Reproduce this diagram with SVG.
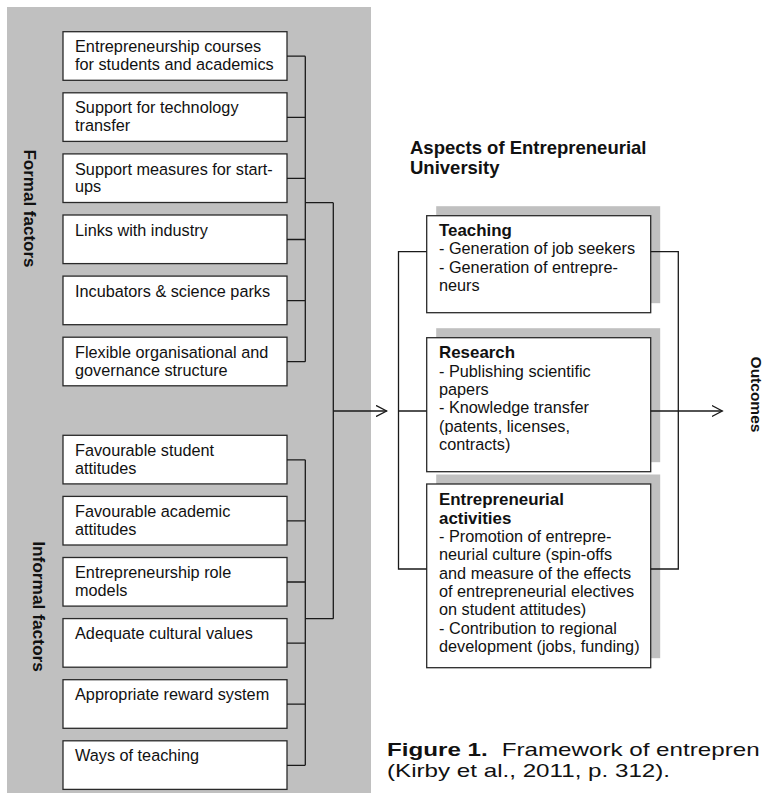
<svg xmlns="http://www.w3.org/2000/svg" width="763" height="793" viewBox="0 0 763 793">
<style>
.t{font-family:"Liberation Sans",Arial,sans-serif;font-size:16.25px;fill:#111}
.b{font-weight:bold}
.bh{font-weight:bold;font-size:16.9px}
.box{fill:#fff;stroke:#2a2a2a;stroke-width:1.3}
.sh{fill:#c0c0c0}
.ln{fill:none;stroke:#1a1a1a;stroke-width:1.3}
</style>
<defs>
<marker id="arr" viewBox="0 0 12 12" refX="10.7" refY="6" markerWidth="12" markerHeight="12" markerUnits="userSpaceOnUse" orient="auto">
<path d="M0,0.4 L10.7,6 L0,11.6" fill="none" stroke="#1a1a1a" stroke-width="1.3"/>
</marker>
</defs>
<rect x="7" y="7" width="364" height="786" fill="#c0c0c0"/>
<text class="t b" font-size="17" transform="translate(24 208.5) rotate(90)" text-anchor="middle" style="font-size:17px">Formal factors</text>
<text class="t b" transform="translate(33 606.5) rotate(90)" text-anchor="middle" style="font-size:17.3px">Informal factors</text>

<g id="f1"><rect class="box" x="63" y="31.7" width="224" height="48.6"/><text class="t" x="75" y="52.3">Entrepreneurship courses<tspan x="75" dy="17.7">for students and academics</tspan></text></g>
<g id="f2"><rect class="box" x="63" y="92.8" width="224" height="48.6"/><text class="t" x="75" y="113.4">Support for technology<tspan x="75" dy="17.7">transfer</tspan></text></g>
<g id="f3"><rect class="box" x="63" y="153.9" width="224" height="48.6"/><text class="t" x="75" y="174.5">Support measures for start-<tspan x="75" dy="17.7">ups</tspan></text></g>
<g id="f4"><rect class="box" x="63" y="215" width="224" height="48.6"/><text class="t" x="75" y="235.6">Links with industry</text></g>
<g id="f5"><rect class="box" x="63" y="276.1" width="224" height="48.6"/><text class="t" x="75" y="296.7">Incubators &amp; science parks</text></g>
<g id="f6"><rect class="box" x="63" y="337.2" width="224" height="48.6"/><text class="t" x="75" y="357.8">Flexible organisational and<tspan x="75" dy="17.7">governance structure</tspan></text></g>

<g id="i1"><rect class="box" x="63" y="435.3" width="224" height="48.6"/><text class="t" x="75" y="455.9">Favourable student<tspan x="75" dy="17.7">attitudes</tspan></text></g>
<g id="i2"><rect class="box" x="63" y="496.4" width="224" height="48.6"/><text class="t" x="75" y="517">Favourable academic<tspan x="75" dy="17.7">attitudes</tspan></text></g>
<g id="i3"><rect class="box" x="63" y="557.5" width="224" height="48.6"/><text class="t" x="75" y="578.1">Entrepreneurship role<tspan x="75" dy="17.7">models</tspan></text></g>
<g id="i4"><rect class="box" x="63" y="618.6" width="224" height="48.6"/><text class="t" x="75" y="639.2">Adequate cultural values</text></g>
<g id="i5"><rect class="box" x="63" y="679.7" width="224" height="48.6"/><text class="t" x="75" y="700.3">Appropriate reward system</text></g>
<g id="i6"><rect class="box" x="63" y="740.8" width="224" height="48.6"/><text class="t" x="75" y="761.4">Ways of teaching</text></g>

<text class="t b" x="410" y="154" style="font-size:18.5px">Aspects of Entrepreneurial<tspan x="410" dy="19.5">University</tspan></text>

<g id="teaching"><rect class="sh" x="436.2" y="206.2" width="224" height="97"/><rect class="box" x="426.7" y="215.7" width="224" height="97"/>
<text class="t" x="439" y="236"><tspan class="bh">Teaching</tspan><tspan x="439" dy="18.3">- Generation of job seekers</tspan><tspan x="439" dy="18.3">- Generation of entrepre-</tspan><tspan x="439" dy="18.3">neurs</tspan></text></g>

<g id="research"><rect class="sh" x="436.2" y="328.2" width="224" height="134"/><rect class="box" x="426.7" y="337.7" width="224" height="134"/>
<text class="t" x="439" y="358.4"><tspan class="bh">Research</tspan><tspan x="439" dy="18.3">- Publishing scientific</tspan><tspan x="439" dy="18.3">papers</tspan><tspan x="439" dy="18.3">- Knowledge transfer</tspan><tspan x="439" dy="18.3">(patents, licenses,</tspan><tspan x="439" dy="18.3">contracts)</tspan></text></g>

<g id="entre"><rect class="sh" x="436.2" y="474.5" width="224" height="183.7"/><rect class="box" x="426.7" y="484" width="224" height="183.7"/>
<text class="t" x="439" y="505.3"><tspan class="bh">Entrepreneurial</tspan><tspan class="bh" x="439" dy="18.35">activities</tspan><tspan x="439" dy="18.35">- Promotion of entrepre-</tspan><tspan x="439" dy="18.35">neurial culture (spin-offs</tspan><tspan x="439" dy="18.35">and measure of the effects</tspan><tspan x="439" dy="18.35">of entrepreneurial electives</tspan><tspan x="439" dy="18.35">on student attitudes)</tspan><tspan x="439" dy="18.35">- Contribution to regional</tspan><tspan x="439" dy="18.35">development (jobs, funding)</tspan></text></g>

<text class="t b" transform="translate(750.5 394.5) rotate(90)" text-anchor="middle" style="font-size:15.5px">Outcomes</text>

<g id="connectors" class="ln">
<path class="ln" d="M287,56.2H305.3M287,117.3H305.3M287,178.4H305.3M287,239.5H305.3M287,300.6H305.3M287,361.7H305.3M305.3,56.2V361.7M305.3,202.7H333.3"/>
<path class="ln" d="M287,459.8H305.3M287,520.9H305.3M287,582H305.3M287,643.1H305.3M287,704.2H305.3M287,765.3H305.3M305.3,459.8V765.3M305.3,618.7H333.3"/>
<path class="ln" d="M333.3,202.7V618.7"/>
<path class="ln" d="M333.3,411H386.7" marker-end="url(#arr)"/>
<path class="ln" d="M426.7,251.7H398.5V569H426.7M398.5,411H426.7"/>
<path class="ln" d="M650.7,251.7H678.3V569H650.7"/>
<path class="ln" d="M650.7,411H722.3" marker-end="url(#arr)"/>
</g>

<text class="t" transform="translate(387 756) scale(1.3 1)" style="font-size:18.6px"><tspan class="b">Figure 1.</tspan><tspan x="88.2">Framework of entrepren</tspan></text>
<text class="t" transform="translate(387 777) scale(1.3 1)" style="font-size:18.6px">(Kirby et al., 2011, p. 312).</text>
</svg>
